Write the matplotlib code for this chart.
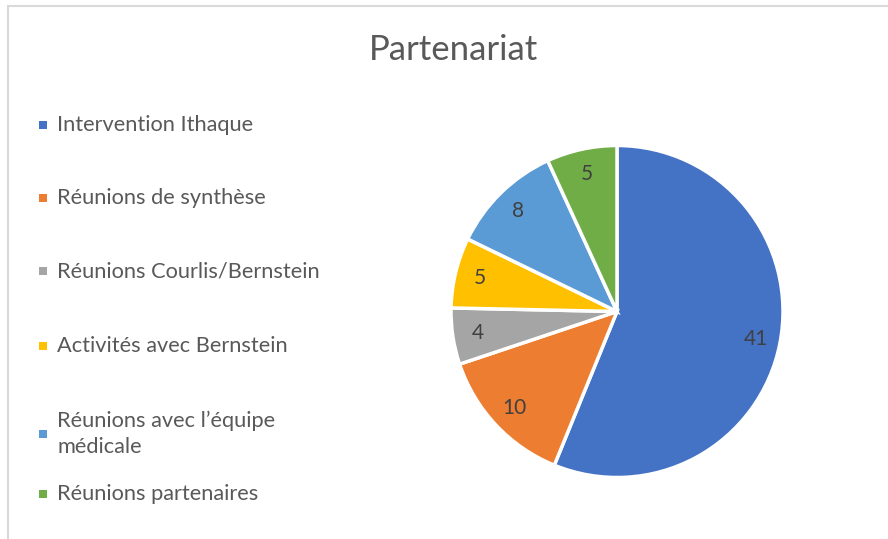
import matplotlib
matplotlib.use("Agg")
import matplotlib.pyplot as plt
from matplotlib.patches import Rectangle

plt.rcParams['font.family'] = ['Lato', 'DejaVu Sans']

title = "Partenariat"
categories = ["Intervention Ithaque", "Réunions de synthèse", "Réunions Courlis/Bernstein",
              "Activités avec Bernstein", "Réunions avec l’équipe\nmédicale", "Réunions partenaires"]
values = [41, 10, 4, 5, 8, 5]
colors = ["#4472C4", "#ED7D31", "#A5A5A5", "#FFC000", "#5B9BD5", "#70AD47"]

W, H = 888, 539
fig = plt.figure(figsize=(W / 100, H / 100), dpi=100)
text_color = "#595959"

# chart frame (extends beyond image on right/bottom)
fig.patches.append(Rectangle((8 / W, -0.1), 1.2, (H - 6) / H + 0.1, transform=fig.transFigure,
                             fill=False, edgecolor="#D9D9D9", linewidth=1.5))

cx, cy, r = 617, 311.5, 166
ax = fig.add_axes([(cx - r) / W, (H - cy - r) / H, 2 * r / W, 2 * r / H])
wedges, texts, autotexts = ax.pie(values, colors=colors, startangle=90, counterclock=False,
                                  radius=1, autopct=lambda p: f"{p * sum(values) / 100:.0f}",
                                  pctdistance=0.85,
                                  wedgeprops=dict(edgecolor="white", linewidth=2.5),
                                  textprops=dict(color="#404040", fontsize=15))
ax.set_xlim(-1, 1)
ax.set_ylim(-1, 1)
ax.set_aspect("equal")
ax.axis("off")

fig.text(453 / W, 1 - 50 / H, title, ha="center", va="center", fontsize=25, color=text_color)

legend_y = [125, 198, 271, 346, 434, 494]
for lab, col, y in zip(categories, colors, legend_y):
    fig.patches.append(Rectangle((39 / W, 1 - (y + 4) / H), 8 / W, 8 / H, transform=fig.transFigure,
                                 facecolor=col, edgecolor="none"))
    fig.text(57 / W, 1 - y / H, lab, ha="left", va="center", fontsize=15.7, color=text_color,
             linespacing=1.4)

fig.savefig("out.png", dpi=100)
